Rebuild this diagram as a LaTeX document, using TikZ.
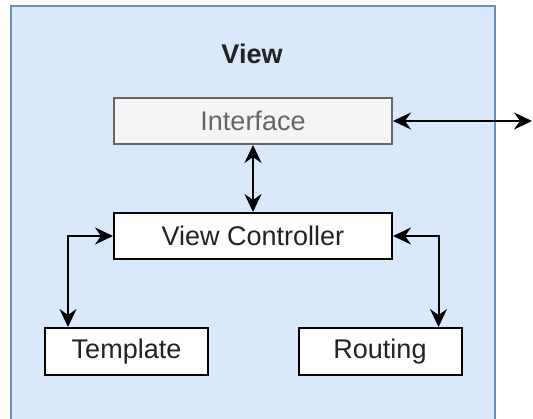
\documentclass[tikz,border=0pt]{standalone}
\usepackage{fontspec}
\setmainfont{Liberation Sans}
\usetikzlibrary{arrows.meta}
\definecolor{viewfill}{HTML}{DAE8FC}
\definecolor{viewline}{HTML}{6C8EBF}
\definecolor{ifacefill}{HTML}{F5F5F5}
\definecolor{ifaceline}{HTML}{666666}
\definecolor{ifacetext}{HTML}{666666}
\definecolor{boxtext}{HTML}{222222}
\tikzset{
  labelfont/.style={font=\fontsize{27}{31}\selectfont},
  unit/.style={draw=black, fill=white, line width=2pt, inner sep=0pt,
    text=boxtext, labelfont},
  widebox/.style={unit, minimum width=278pt, minimum height=46pt},
  smallbox/.style={unit, minimum width=163pt, minimum height=47pt},
  tip/.tip={Stealth[length=18pt, width=17pt, inset=6pt]},
  link/.style={line width=2pt, black, tip-tip},
}
\begin{document}
\begin{tikzpicture}[x=1pt, y=-1pt]
  \path[use as bounding box] (0,0) rectangle (533,419);
  \clip (0,0) rectangle (533,419);

  % container for the view layer
  \node[draw=viewline, fill=viewfill, line width=2pt, inner sep=0pt,
        minimum width=484pt, minimum height=440pt] (view) at (253,226) {};
  \node[font=\fontsize{27}{31}\selectfont\bfseries, text=boxtext] (title) at (252,54) {View};

  % components
  \node[widebox, fill=ifacefill, draw=ifaceline, text=ifacetext] (iface) at (253,121) {Interface};
  \node[widebox] (ctrl) at (253,236) {View Controller};
  \node[smallbox] (tmpl) at (126.5,351.5) {Template};
  \node[smallbox] (route) at (380,351.5) {Routing};
  \coordinate (outside) at (532,121);

  % connections
  \draw[link] (iface.east) -- (outside);
  \draw[link] (iface.south) -- (ctrl.north);
  \draw[link] (ctrl.west) -| ([xshift=24pt]tmpl.north west);
  \draw[link] (ctrl.east) -| ([xshift=-24pt]route.north east);
\end{tikzpicture}
\end{document}
